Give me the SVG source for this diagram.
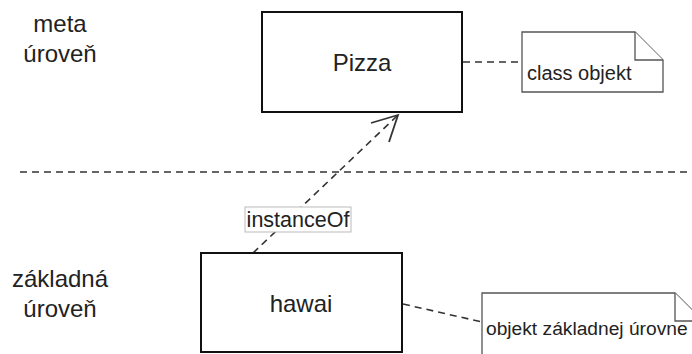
<svg xmlns="http://www.w3.org/2000/svg" width="692" height="354" viewBox="0 0 692 354">
  <style>
    .t { font-family: "Liberation Sans", Arial, sans-serif; fill: #222; }
    .big { font-size: 24px; text-anchor: middle; }
    .note { font-size: 20px; }
    .box { fill: #fff; stroke: #111; stroke-width: 2; }
    .notebox { fill: #fff; stroke: #555; stroke-width: 1.3; }
    .dash { fill: none; stroke: #333; stroke-width: 1.6; stroke-dasharray: 7 5; }
  </style>
  <rect width="692" height="354" fill="#fff"/>
  <g id="lbl-meta">
    <text class="t big" x="60" y="32">meta</text>
    <text class="t big" x="60" y="62">úroveň</text>
  </g>
  <g id="lbl-zakladna">
    <text class="t big" x="60" y="287">základná</text>
    <text class="t big" x="60" y="317">úroveň</text>
  </g>
  <g id="connectors">
    <line class="dash" x1="20" y1="172" x2="692" y2="172"/>
    <line class="dash" x1="463" y1="62" x2="522" y2="62"/>
    <line class="dash" x1="403" y1="304" x2="482" y2="322"/>
    <line class="dash" x1="253" y1="253" x2="397" y2="116"/>
    <polyline points="371,123 398,115 389,142" fill="none" stroke="#333" stroke-width="1.8"/>
    <g id="lbl-instanceOf">
      <rect x="245" y="207" width="106" height="25" fill="#fff" stroke="#bbb" stroke-width="1"/>
      <text class="t" x="298" y="227" font-size="21.5" text-anchor="middle">instanceOf</text>
    </g>
  </g>
  <g id="pizza">
    <rect class="box" x="262" y="12" width="200" height="100"/>
    <text class="t big" x="362" y="71">Pizza</text>
  </g>
  <g id="note-class">
    <path class="notebox" d="M522,32 H635 L663,60 V92 H522 Z"/>
    <path class="notebox" d="M635,32 V60 H663" fill="none"/>
    <text class="t note" x="527" y="80">class objekt</text>
  </g>
  <g id="hawai">
    <rect class="box" x="201" y="253" width="201" height="99"/>
    <text class="t big" x="301" y="312">hawai</text>
  </g>
  <g id="note-objekt">
    <path class="notebox" d="M482,293 H675 L703,321 V360 H482 Z"/>
    <path class="notebox" d="M675,293 V321 H703" fill="none"/>
    <text class="t" x="486" y="335" font-size="19.2">objekt základnej úrovne</text>
  </g>
</svg>
